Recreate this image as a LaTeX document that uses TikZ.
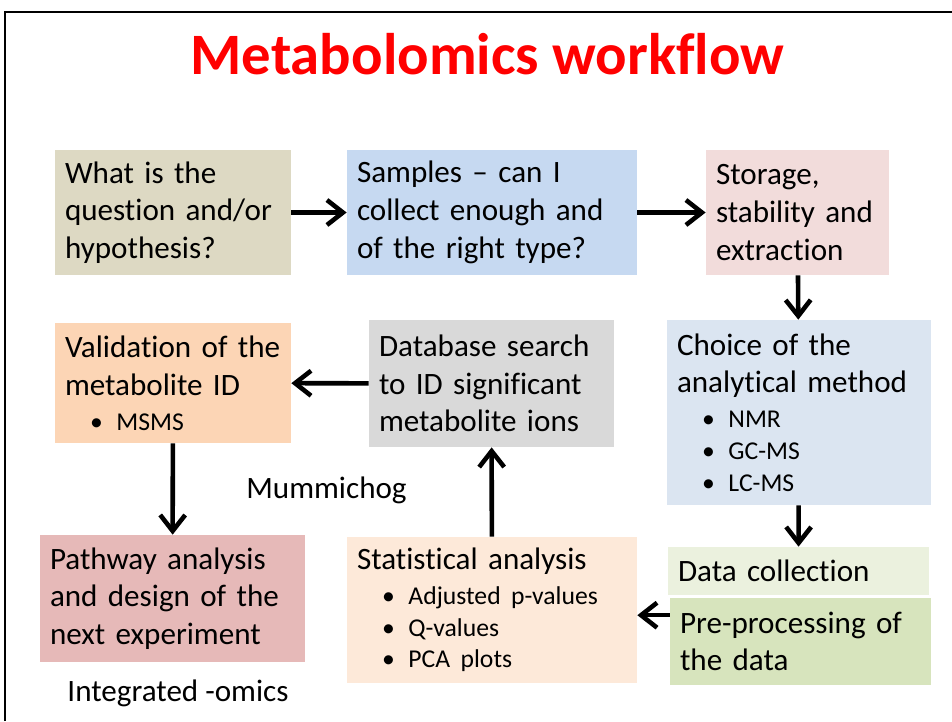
\documentclass[tikz,border=0pt]{standalone}
\usepackage{fontspec}
\setmainfont{Carlito}[Ligatures=NoCommon]
\usetikzlibrary{arrows.meta, calc, positioning}

\definecolor{questfill}{HTML}{DDD9C3}
\definecolor{sampfill}{HTML}{C6D9F1}
\definecolor{storefill}{HTML}{F2DCDB}
\definecolor{choicefill}{HTML}{DBE5F1}
\definecolor{collfill}{HTML}{EBF1DE}
\definecolor{prepfill}{HTML}{D7E4BD}
\definecolor{statfill}{HTML}{FDE9D9}
\definecolor{dbfill}{HTML}{D9D9D9}
\definecolor{validfill}{HTML}{FCD5B5}
\definecolor{pathfill}{HTML}{E6B9B8}

\newcommand{\mainsz}{\fontsize{17.7}{21.5}\selectfont}
\newcommand{\bulsz}{\fontsize{14.6}{18}\selectfont}
\newcommand{\bitem}[1]{\hspace*{0.5cm}{\bulsz\makebox[0.53cm][l]{\textbullet}#1}}

\tikzset{flowbox/.style={rectangle, inner xsep=0.2cm, inner ysep=0pt, align=left, font=\mainsz},
    flowarrow/.style={draw, line width=2.6pt, -{Straight Barb[length=3.2mm,width=5mm]}},
    plainlabel/.style={font=\mainsz, inner sep=0pt}}

\begin{document}
\begin{tikzpicture}
  \useasboundingbox (0,0) rectangle (19.04,-14.42);
  \draw[line width=1.2pt] (0.1,-14.42) -- (0.1,-0.24) -- (19.04,-0.24);

  \node[anchor=base, text=red, font=\fontsize{33.4}{40}\selectfont\bfseries] (title) at (9.75,-1.48) {Metabolomics workflow};

  % top row
  \node[flowbox, fill=questfill, text width=4.32cm, minimum height=2.5cm] (quest) at (3.46,-4.25)
    {What is the\\question and/or\\hypothesis?};
  \node[flowbox, fill=sampfill, text width=5.4cm, minimum height=2.5cm] (samp) at (9.84,-4.25)
    {Samples -- can I\\collect enough and\\of the right type?};
  \node[flowbox, fill=storefill, text width=3.26cm, minimum height=2.5cm] (store) at (15.95,-4.25)
    {Storage,\\stability and\\extraction};

  % right column
  \node[flowbox, fill=choicefill, text width=4.88cm, minimum height=3.7cm] (choice) at (15.98,-8.25)
    {Choice of the\\analytical method\\[-1.7pt]\bitem{NMR}\\[-3.4pt]\bitem{GC-MS}\\[-3.4pt]\bitem{LC-MS}};
  \node[flowbox, fill=collfill, text width=4.82cm, minimum height=0.96cm] (coll) at (15.97,-11.42)
    {Data collection};
  \node[flowbox, fill=prepfill, text width=4.82cm, minimum height=1.74cm] (prep) at (16.01,-12.83)
    {Pre-processing of\\the data};

  % middle column
  \node[flowbox, fill=statfill, text width=5.4cm, minimum height=2.92cm] (stat) at (9.84,-12.2)
    {Statistical analysis\\[-1.7pt]\bitem{Adjusted p-values}\\[-3.4pt]\bitem{Q-values}\\[-3.4pt]\bitem{PCA plots}};
  \node[flowbox, fill=dbfill, text width=4.5cm, minimum height=2.54cm] (db) at (9.83,-7.67)
    {Database search\\to ID significant\\metabolite ions};

  % left column
  \node[flowbox, fill=validfill, text width=4.32cm, minimum height=2.4cm] (valid) at (3.46,-7.66)
    {Validation of the\\metabolite ID\\[-1.7pt]\bitem{MSMS}};
  \node[flowbox, fill=pathfill, text width=4.9cm, minimum height=2.54cm] (path) at (3.45,-11.97)
    {Pathway analysis\\and design of the\\next experiment};

  % side labels
  \node[plainlabel] (mummi) at (6.53,-9.8) {Mummichog};
  \node[plainlabel] (omics) at (3.56,-13.86) {Integrated -omics};

  % workflow arrows
  \draw[flowarrow] (quest) -- (samp);
  \draw[flowarrow] (samp) -- (store);
  \draw[flowarrow] (store) -- (choice);
  \draw[flowarrow] (choice) -- (coll);
  \coordinate (prepout) at ($(prep.north west)!0.2!(prep.south west)$);
  \draw[flowarrow] (prepout) -- (prepout -| stat.east);
  \draw[flowarrow] (stat) -- (db);
  \draw[flowarrow] (db) -- (valid);
  \draw[flowarrow] (valid) -- (path);
\end{tikzpicture}
\end{document}
